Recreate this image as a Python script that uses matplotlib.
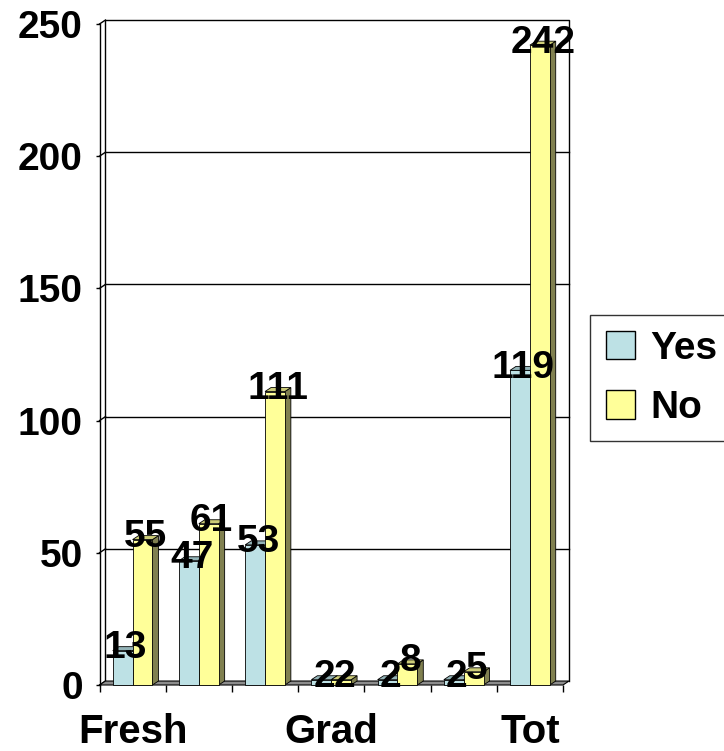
import matplotlib.pyplot as plt
from matplotlib.patches import Patch

# Data
categories = ["Fresh", "", "", "Grad", "", "", "Tot"]
yes_values = [13, 47, 53, 2, 2, 2, 119]
no_values = [55, 61, 111, 2, 8, 5, 242]
y_ticks = [0, 50, 100, 150, 200, 250]

plt.rcParams['font.family'] = ['Liberation Sans', 'DejaVu Sans']
plt.rcParams['font.weight'] = 'bold'
FS = 28

fig = plt.figure(figsize=(7.24, 7.51), dpi=100)
ax = fig.add_axes([99.5 / 724, 66 / 751, 463.5 / 724, 661 / 751])
n = len(categories)
ax.set_xlim(0, n)
ax.set_ylim(0, 250)

# 3D depth offset in data units
dx, dy = 0.09, 1.5
bw = 0.3

# back wall + gridlines
ax.plot([dx, dx, n + dx, n + dx], [dy, 250 + dy, 250 + dy, dy], color='black', lw=1, zorder=0.5, clip_on=False)
for v in y_ticks[1:-1]:
    ax.plot([dx, n + dx], [v + dy, v + dy], color='black', lw=1, zorder=0.5, clip_on=False)
for v in y_ticks:
    ax.plot([0, dx], [v, v + dy], color='black', lw=1, zorder=0.5, clip_on=False)

# floor
ax.fill([0, n, n + dx, dx], [0, 0, dy, dy], facecolor='#8c8c8c', edgecolor='black', lw=0.8, zorder=1, clip_on=False)


def bars3d(offset, values, front, top, side, z):
    xs = [i + offset for i in range(n)]
    for x, v in zip(xs, values):
        ax.fill([x + bw, x + bw + dx, x + bw + dx, x + bw], [0, dy, v + dy, v],
                facecolor=side, edgecolor='black', lw=0.6, zorder=z, clip_on=False)
        ax.fill([x, x + bw, x + bw + dx, x + dx], [v, v, v + dy, v + dy],
                facecolor=top, edgecolor='black', lw=0.6, zorder=z, clip_on=False)
    ax.bar(xs, values, bw, align='edge', color=front, edgecolor='black', lw=0.6, zorder=z + 0.1, clip_on=False)
    for x, v in zip(xs, values):
        ax.text(x + bw / 2 + dx / 2, v + 1, str(v), ha='center', va='center', fontsize=FS,
                fontweight='bold', zorder=10)


bars3d(0.2, yes_values, '#BDE1E5', '#93B3B7', '#5F7A7E', 2)
bars3d(0.5, no_values, '#FFFF99', '#CCCC77', '#808050', 3)

# axes styling
for s in ['top', 'right', 'bottom']:
    ax.spines[s].set_visible(False)
ax.spines['left'].set_linewidth(1)
ax.set_yticks(y_ticks)
ax.set_yticklabels([str(v) for v in y_ticks], fontsize=FS, fontweight='bold')
ax.tick_params(axis='y', length=3, width=1, pad=9)
ax.set_xticks([i + 0.5 for i in range(n)])
ax.set_xticklabels(categories, fontsize=29, fontweight='bold')
ax.set_xticks(range(n + 1), minor=True)
ax.tick_params(axis='x', which='major', length=0, pad=20)
ax.tick_params(axis='x', which='minor', length=5, width=1)

handles = [Patch(facecolor='#BDE1E5', edgecolor='black', label='Yes'),
           Patch(facecolor='#FFFF99', edgecolor='black', label='No')]
leg = fig.legend(handles=handles, loc='upper left', bbox_to_anchor=(590 / 724, 1 - 315 / 751),
                 borderaxespad=0, fancybox=False, edgecolor='black',
                 handlelength=0.75, handleheight=0.75, handletextpad=0.4, labelspacing=0.6,
                 borderpad=0.4, prop={'weight': 'bold', 'size': FS})
leg.get_frame().set_linewidth(1)

fig.savefig('out.png', dpi=100)
